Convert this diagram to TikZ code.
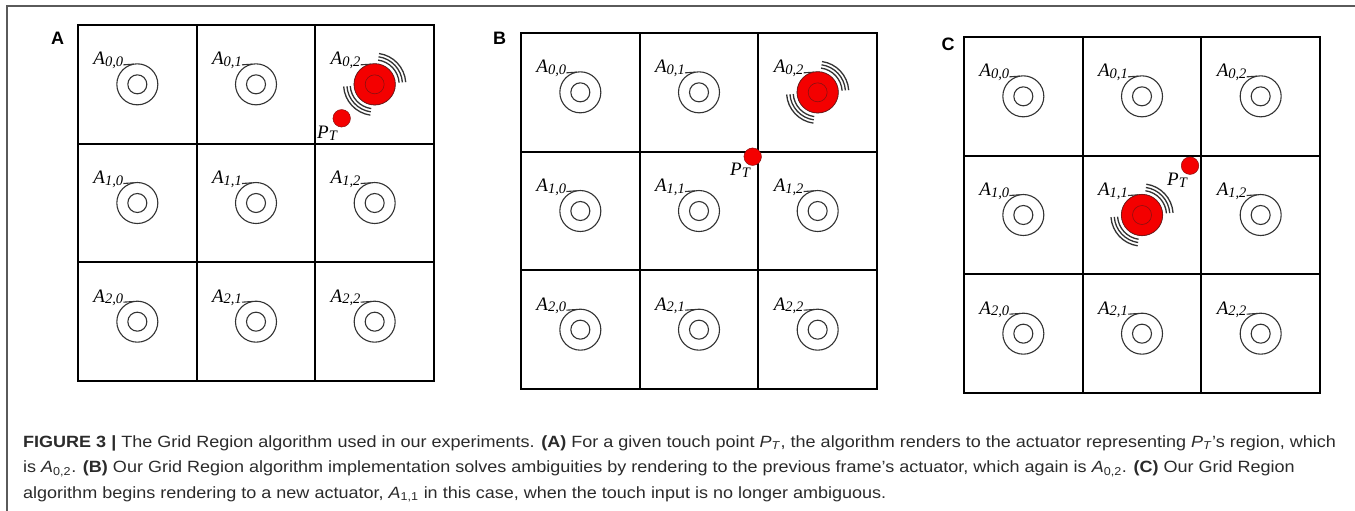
\documentclass[tikz,border=0pt]{standalone}
\usepackage{fontspec}
\usepackage{graphicx}
\setmainfont{Liberation Serif}
\newfontfamily\capfont{Liberation Sans}
\usetikzlibrary{calc}
\definecolor{actred}{HTML}{F40000}
\definecolor{actedge}{HTML}{8A1010}
\definecolor{ringgray}{HTML}{333333}
\definecolor{framegray}{HTML}{5A5A5A}
\definecolor{captext}{HTML}{2B2B2B}
\tikzset{
  gridline/.style={black, line width=2},
  ring/.style={ringgray, line width=1.1},
  wave/.style={ringgray, line width=1.3},
  cell label/.style={anchor=base east, inner sep=0pt},
  touch/.style={circle, fill=actred, draw=actedge, line width=0.5, minimum size=17.5pt, inner sep=0pt},
  touch label/.style={inner sep=0pt},
  panel letter/.style={inner sep=0pt, font=\capfont\bfseries\fontsize{18}{18}\selectfont},
  capline/.style={anchor=base west, inner sep=0pt, text=captext, font=\capfont\fontsize{16.3}{16.3}\selectfont},
}
\newcommand\cellsub[1]{\raisebox{-1.6pt}{\fontsize{14.5}{14.5}\selectfont #1}}
\newcommand\actlabel[2]{\fontsize{19}{19}\selectfont\itshape A\cellsub{#1,#2}}
\newcommand\touchlabel{\fontsize{19}{19}\selectfont\itshape P\cellsub{T}}
\newcommand\capwide[1]{\scalebox{1.105}[1]{#1}}
% a 3x3 grid of actuators; #1 prefix, #2/#3 top-left corner (x, depth)
\newcommand\gridpanel[3]{%
  \begin{scope}[shift={(#2,-#3)}]
    \draw[gridline] (0,0) rectangle (356,-356);
    \draw[gridline] (118.67,0) -- (118.67,-356) (237.33,0) -- (237.33,-356)
                    (0,-118.67) -- (356,-118.67) (0,-237.33) -- (356,-237.33);
    \foreach \r in {0,1,2}{\foreach \c in {0,1,2}{
      \coordinate (#1-\r\c) at ({(\c+0.5)*118.67},{-(\r+0.5)*118.67});
      \draw[ring] (#1-\r\c) circle (20.5) (#1-\r\c) circle (9.5);
      \node[cell label] (#1-l\r\c) at ($(#1-\r\c)+(-14,19.5)$) {\actlabel{\r}{\c}};
      \draw[ring] (#1-l\r\c.base east) -- ($(#1-\r\c)+(100:20.5)$);
    }}
  \end{scope}}
% the actuator currently rendering, with its vibration arcs
\newcommand\activeact[1]{%
  \fill[actred, draw=actedge, line width=0.6] (#1) circle (20.5);
  \draw[actedge, line width=0.6] (#1) circle (9.5);
  \foreach \rr in {24.5,27.8,31.1}{
    \draw[wave] ($(#1)+(4:\rr)$) arc[start angle=4, end angle=82, radius=\rr];
    \draw[wave] ($(#1)+(184:\rr)$) arc[start angle=184, end angle=262, radius=\rr];
  }}
\begin{document}
\begin{tikzpicture}[x=1pt,y=1pt]
\useasboundingbox (0,0) rectangle (1355,-511);
\fill[white] (0,0) rectangle (1355,-511);
\draw[framegray, line width=1.5] (1355,-6) -- (7,-6) -- (7,-511);

% panel A
\node[panel letter] (letA) at (57.5,-38.5) {A};
\gridpanel{A}{78}{25}
\activeact{A-02}
\node[touch] (tA) at (341.7,-118.3) {};
\node[touch label] (pA) at (327,-133) {\touchlabel};

% panel B
\node[panel letter] (letB) at (499.5,-38.5) {B};
\gridpanel{B}{521}{33}
\activeact{B-02}
\node[touch] (tB) at (752.7,-156.7) {};
\node[touch label] (pB) at (740,-170) {\touchlabel};

% panel C
\node[panel letter] (letC) at (948,-44) {C};
\gridpanel{C}{964}{37}
\activeact{C-11}
\node[touch] (tC) at (1190,-165.7) {};
\node[touch label] (pC) at (1177,-180) {\touchlabel};

% caption
\node[capline] (cap1) at (23,-447) {\capwide{\textbf{FIGURE 3 |} The Grid Region algorithm used in our experiments. \textbf{(A)} For a given touch point \textit{P}\textsubscript{\textit{T}}, the algorithm renders to the actuator representing \textit{P}\textsubscript{\textit{T}}’s region, which}};
\node[capline] (cap2) at (23,-472.5) {\capwide{is \textit{A}\textsubscript{0,2}. \textbf{(B)} Our Grid Region algorithm implementation solves ambiguities by rendering to the previous frame’s actuator, which again is \textit{A}\textsubscript{0,2}. \textbf{(C)} Our Grid Region}};
\node[capline] (cap3) at (23,-498) {\capwide{algorithm begins rendering to a new actuator, \textit{A}\textsubscript{1,1} in this case, when the touch input is no longer ambiguous.}};
\end{tikzpicture}
\end{document}
